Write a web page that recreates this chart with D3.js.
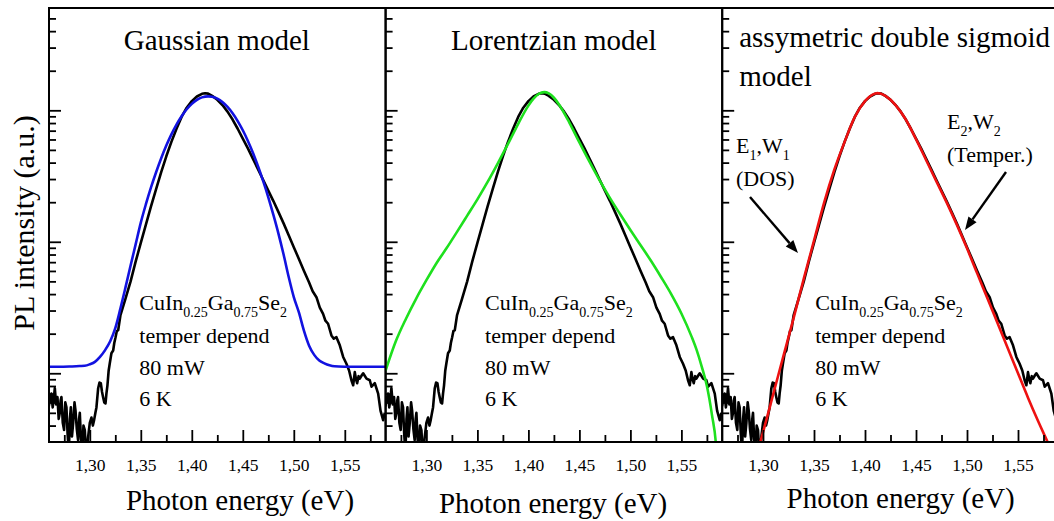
<!DOCTYPE html>
<html><head><meta charset="utf-8">
<script src="https://cdn.jsdelivr.net/npm/d3@7"></script>
<style>
html,body{margin:0;padding:0;background:#fff;}
svg{display:block;font-family:"Liberation Serif","Times New Roman",serif;}
</style></head><body>
<svg id="chart" width="1054" height="521"></svg>
<script>
// ---------- data ----------
const expEnergy = [1.2598,1.2612,1.2624,1.2636,1.2645,1.2657,1.2670,1.2683,1.2695,1.2706,1.2714,1.2722,1.2735,1.2748,1.2760,1.2771,1.2782,1.2794,1.2805,1.2814,1.2825,1.2837,1.2850,1.2860,1.2872,1.2885,1.2895,1.2902,1.2913,1.2925,1.2938,1.2951,1.2960,1.2968,1.2984,1.3000,1.3016,1.3030,1.3042,1.3055,1.3065,1.3082,1.3095,1.3108,1.3120,1.3130,1.3142,1.3154,1.3163,1.3173,1.3185,1.3196,1.3212,1.3229,1.3240,1.3252,1.3265,1.3278,1.3300,1.3350,1.3400,1.3450,1.3500,1.3550,1.3600,1.3650,1.3700,1.3750,1.3800,1.3850,1.3900,1.3950,1.4000,1.4050,1.4100,1.4130,1.4160,1.4200,1.4250,1.4300,1.4350,1.4400,1.4450,1.4500,1.4550,1.4600,1.4650,1.4700,1.4750,1.4800,1.4850,1.4900,1.4950,1.5000,1.5050,1.5100,1.5150,1.5185,1.5222,1.5255,1.5287,1.5310,1.5336,1.5369,1.5392,1.5418,1.5451,1.5484,1.5516,1.5542,1.5565,1.5582,1.5598,1.5610,1.5621,1.5635,1.5647,1.5668,1.5680,1.5713,1.5745,1.5762,1.5794,1.5827,1.5850,1.5876,1.5892];
const expIntensity = [0.56,0.64,0.70,0.55,0.62,0.77,0.58,0.66,0.45,0.50,0.62,0.66,0.42,0.37,0.60,0.55,0.35,0.25,0.45,0.55,0.33,0.42,0.60,0.52,0.38,0.31,0.45,0.50,0.32,0.25,0.40,0.37,0.28,0.24,0.33,0.42,0.46,0.40,0.44,0.50,0.55,0.77,0.85,0.84,0.72,0.66,0.60,0.59,0.70,0.81,1.05,1.19,1.42,1.49,1.70,1.87,2.10,2.12,2.75,3.7,5.0,7.1,9.8,13.5,18.6,25.1,33.9,44.7,57.5,72.4,89.1,104.7,117.5,127.4,133.4,134.9,134.0,128.8,120.2,109.6,97.7,85.1,72.4,61.0,51.3,42.7,35.5,29.5,24.5,20.4,16.8,13.8,11.2,9.1,7.4,6.0,4.9,4.2,3.79,3.16,2.83,2.51,2.38,1.94,1.83,1.88,1.63,1.33,1.18,1.05,0.885,0.81,1.02,0.90,0.84,0.95,0.91,0.97,1.00,0.91,0.885,0.79,0.84,0.70,0.52,0.44,0.50];

const gaussEnergy = [1.26,1.27,1.28,1.29,1.295,1.30,1.305,1.31,1.315,1.32,1.325,1.33,1.335,1.34,1.345,1.35,1.355,1.36,1.365,1.37,1.375,1.38,1.385,1.39,1.395,1.40,1.405,1.41,1.416,1.42,1.425,1.43,1.435,1.44,1.445,1.45,1.455,1.46,1.465,1.47,1.475,1.48,1.485,1.49,1.495,1.50,1.505,1.51,1.515,1.52,1.525,1.53,1.535,1.54,1.55,1.56,1.59];
const gaussIntensity = [1.12,1.12,1.125,1.135,1.14,1.17,1.22,1.33,1.5,1.75,2.2,3.1,4.5,6.6,9.6,14.0,19.3,25.9,33.8,43.2,53.9,65.6,77.9,90.2,101.8,111.9,120.0,125.4,127.7,126.7,122.5,115.4,106.0,94.9,82.8,70.5,58.5,47.4,37.4,28.9,21.8,16.0,11.5,8.0,5.4,3.8,2.9,2.1,1.62,1.38,1.25,1.19,1.15,1.13,1.122,1.12,1.12];

const lorentzEnergy = [1.26,1.27,1.28,1.29,1.30,1.31,1.32,1.33,1.34,1.35,1.36,1.37,1.38,1.39,1.40,1.405,1.41,1.4155,1.42,1.425,1.43,1.44,1.45,1.46,1.47,1.48,1.49,1.50,1.51,1.52,1.53,1.54,1.55,1.56,1.565,1.57,1.575,1.58,1.584,1.587];
const lorentzIntensity = [1.05,1.75,2.6,3.7,5.1,6.9,9.0,11.9,15.8,21.0,28.5,39.5,55.5,79.0,108.5,122.5,133.0,137.6,134.5,124.6,110.7,81.0,57.0,40.5,29.2,21.5,16.2,12.3,9.4,7.2,5.4,4.0,2.85,1.9,1.5,1.12,0.8,0.48,0.28,0.1];

const sigmoidEnergy = [1.296,1.30,1.31,1.32,1.33,1.34,1.35,1.36,1.37,1.38,1.39,1.40,1.405,1.41,1.412,1.415,1.42,1.43,1.44,1.45,1.46,1.47,1.48,1.49,1.50,1.51,1.52,1.53,1.54,1.55,1.56,1.57,1.58,1.59];
const sigmoidIntensity = [0.275,0.355,0.692,1.35,2.63,5.25,10.2,19.95,35.5,57.5,89.1,117.5,127.9,134.0,135.2,134.3,128.8,109.6,85.1,60.3,41.7,28.8,19.95,13.5,8.91,5.75,3.72,2.40,1.55,1.0,0.646,0.427,0.288,0.19];

const xTickValues = [1.30,1.35,1.40,1.45,1.50,1.55];
const xTickLabels = ["1,30","1,35","1,40","1,45","1,50","1,55"];
const xMinorTicks = [1.275,1.325,1.375,1.425,1.475,1.525,1.575];
const yMajorTicks = [1,10,100];
const yMinorTicks = [0.4,0.5,0.6,0.7,0.8,0.9,2,3,4,5,6,7,8,9,20,30,40,50,60,70,80,90,200,300,400,500];

const panelTitles = [["Gaussian model"],["Lorentzian model"],["assymetric double sigmoid","model"]];
const fitColors = ["#1212e0","#1ee01e","#ee1111"];
const sampleLines = ["temper depend","80 mW","6 K"];
const xAxisTitle = "Photon energy (eV)";
const yAxisTitle = "PL intensity (a.u.)";

// ---------- layout ----------
const panelLeft = 49, panelWidth = 336.6, plotTop = 8, plotBottom = 442;
const svg = d3.select('#chart');
svg.append('rect').attr('width',1054).attr('height',521).attr('fill','#fff');

const y = d3.scaleLog().domain([0.3,600]).range([plotBottom, plotTop]);
const x = d3.scaleLinear().domain([1.26,1.59]).range([0, panelWidth]);

const fits = [
  d3.zip(gaussEnergy, gaussIntensity),
  d3.zip(lorentzEnergy, lorentzIntensity),
  d3.zip(sigmoidEnergy, sigmoidIntensity)
];
const expData = d3.zip(expEnergy, expIntensity);

const titleLayout = [
  {anchor:'middle', x:167.8, y:[50]},
  {anchor:'middle', x:168.2, y:[50]},
  {anchor:'start', x:17, y:[47,86]}
];
const xLabelLayout = [{x:191, y:510},{x:167.5,y:513},{x:178.5,y:508}];
const sampleX = [90.3, 99.5, 93];

const lineExp = d3.line().x(d=>x(d[0])).y(d=>y(d[1]));
const lineFit = d3.line().x(d=>x(d[0])).y(d=>y(d[1])).curve(d3.curveMonotoneX);

function styleAxis(sel){
  sel.select('.domain').remove();
  sel.selectAll('.tick line').attr('stroke','#000').attr('stroke-width',1.8);
  sel.selectAll('.tick text').attr('fill','#000')
     .style('font-family','"Liberation Serif","Times New Roman",serif')
     .style('font-size','17.5px');
}

function subText(sel, parts, size, subSize){
  // parts: array of [text, isSub]
  parts.forEach(([t,sub])=>{
    const ts = sel.append('tspan').text(t);
    if(sub){ ts.attr('font-size',subSize).attr('dy',7); }
    else { ts.attr('font-size',size); }
  });
  // fix baseline returns
  const spans = sel.selectAll('tspan').nodes();
  for(let k=1;k<spans.length;k++){
    const prevSub = parts[k-1][1], curSub = parts[k][1];
    if(prevSub && !curSub) d3.select(spans[k]).attr('dy',-7);
    if(prevSub && curSub) d3.select(spans[k]).attr('dy',0);
  }
}

[0,1,2].forEach(i=>{
  const x0 = panelLeft + i*panelWidth;
  const g = svg.append('g').attr('transform',`translate(${x0},0)`);
  g.append('clipPath').attr('id','clip'+i).append('rect')
    .attr('x',0).attr('y',plotTop).attr('width',panelWidth).attr('height',plotBottom-plotTop);
  const plot = g.append('g').attr('clip-path',`url(#clip${i})`);

  plot.append('path').datum(expData).attr('d',lineExp)
    .attr('fill','none').attr('stroke','#000').attr('stroke-width',2.6).attr('stroke-linejoin','round');
  plot.append('path').datum(fits[i]).attr('d',lineFit)
    .attr('fill','none').attr('stroke',fitColors[i]).attr('stroke-width',2.6);

  // axes
  g.append('g').attr('transform',`translate(0,${plotBottom})`)
    .call(d3.axisBottom(x).tickValues(xTickValues).tickSize(-12).tickPadding(17)
      .tickFormat((d,j)=>xTickLabels[j])).call(styleAxis);
  g.append('g').attr('transform',`translate(0,${plotBottom})`)
    .call(d3.axisBottom(x).tickValues(xMinorTicks).tickSize(-7).tickFormat('')).call(styleAxis);
  g.append('g').call(d3.axisLeft(y).tickValues(yMajorTicks).tickSize(-12).tickFormat('')).call(styleAxis);
  g.append('g').call(d3.axisLeft(y).tickValues(yMinorTicks).tickSize(-7).tickFormat('')).call(styleAxis);

  g.append('rect').attr('x',0).attr('y',plotTop).attr('width',panelWidth).attr('height',plotBottom-plotTop)
    .attr('fill','none').attr('stroke','#000').attr('stroke-width',2);

  // title
  const tl = titleLayout[i];
  panelTitles[i].forEach((t,k)=>{
    g.append('text').attr('x',tl.x).attr('y',tl.y[k]).attr('text-anchor',tl.anchor)
      .attr('font-size',29).attr('fill','#000').text(t);
  });

  // sample text
  const st = g.append('text').attr('x',sampleX[i]).attr('y',310).attr('fill','#000');
  subText(st, [["CuIn",false],["0.25",true],["Ga",false],["0.75",true],["Se",false],["2",true]], 22, 14);
  sampleLines.forEach((t,k)=>{
    g.append('text').attr('x',sampleX[i]).attr('y',[343,375,406][k]).attr('font-size',22).attr('fill','#000').text(t);
  });

  // x label
  g.append('text').attr('x',xLabelLayout[i].x).attr('y',xLabelLayout[i].y).attr('text-anchor','middle')
    .attr('font-size',29).attr('fill','#000').text(xAxisTitle);
});

// y label
svg.append('text').attr('transform','translate(33.5,223) rotate(-90)').attr('text-anchor','middle')
  .attr('font-size',30).attr('fill','#000').text(yAxisTitle);

// annotations in panel 3
const e1 = svg.append('text').attr('x',736).attr('y',153).attr('fill','#000');
subText(e1, [["E",false],["1",true],[",W",false],["1",true]], 22, 14);
svg.append('text').attr('x',736).attr('y',186).attr('font-size',22).attr('fill','#000').text("(DOS)");
const e2 = svg.append('text').attr('x',947).attr('y',129).attr('fill','#000');
subText(e2, [["E",false],["2",true],[",W",false],["2",true]], 22, 14);
svg.append('text').attr('x',947).attr('y',162).attr('font-size',22).attr('fill','#000').text("(Temper.)");

function arrow(x1,y1,x2,y2){
  const ang = Math.atan2(y2-y1,x2-x1), L=13, Wd=5;
  const bx = x2 - L*Math.cos(ang), by = y2 - L*Math.sin(ang);
  svg.append('line').attr('x1',x1).attr('y1',y1).attr('x2',bx).attr('y2',by)
    .attr('stroke','#000').attr('stroke-width',2.4);
  const px = -Math.sin(ang)*Wd, py = Math.cos(ang)*Wd;
  svg.append('path').attr('d',`M${x2},${y2}L${bx+px},${by+py}L${bx-px},${by-py}Z`).attr('fill','#000');
}
arrow(750,197,798,253);
arrow(1006,172,965,230);
</script>
</body></html>
